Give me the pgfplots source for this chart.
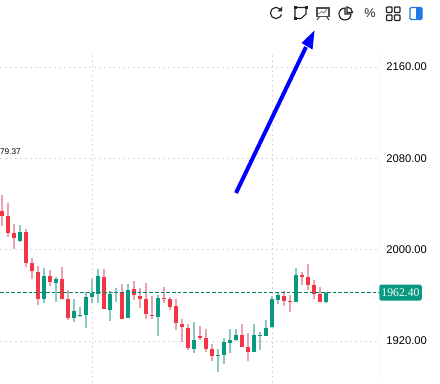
\documentclass[border=0pt]{standalone}
\usepackage{fontspec}
\setmainfont{Liberation Sans}
\newfontfamily\serifbox{Liberation Serif}
\usepackage{pgfplots}
\usepackage{pgfplotstable}
\pgfplotsset{compat=1.18}
\definecolor{upb}{HTML}{089981}
\definecolor{dnb}{HTML}{F23645}
\definecolor{upw}{HTML}{8CC8BE}
\definecolor{dnw}{HTML}{E9A3B1}
\definecolor{gridc}{HTML}{D9D9D9}
\definecolor{iconc}{HTML}{222222}
\definecolor{panel}{HTML}{1E78E6}
\pgfplotstableread{
x high low top bot
2 2047.9 2020.7 2033.8 2029.8
8 2040.6 2011.4 2029.5 2014.9
14 2022.2 2000.6 2014.6 2010.5
26 2017.8 1984.8 2015.5 1988.6
32 1992.4 1974.6 1988.3 1981.6
38 1985.7 1951.8 1980.4 1957.0
50 1982.2 1968.1 1976.9 1971.9
62 1984.5 1957.0 1974.3 1957.0
68 1964.3 1938.4 1956.8 1940.1
104 1983.0 1947.7 1976.0 1948.0
122 1970.0 1939.3 1962.7 1939.6
134 1972.6 1956.0 1965.6 1960.3
140 1966.5 1949.2 1959.5 1956.8
146 1970.9 1939.3 1956.8 1943.7
152 1959.5 1939.3 1942.8 1941.9
164 1967.3 1953.3 1957.7 1956.8
170 1958.6 1947.2 1956.8 1949.8
176 1956.8 1929.7 1950.7 1935.8
182 1939.3 1919.2 1934.9 1932.3
188 1934.9 1912.2 1931.4 1913.9
200 1933.2 1920.9 1924.4 1922.7
206 1930.6 1910.4 1922.7 1913.0
212 1917.4 1902.5 1913.0 1906.9
242 1934.9 1914.8 1925.3 1914.8
248 1927.1 1902.5 1914.8 1910.4
284 1963.8 1950.6 1959.4 1955.0
290 1960.3 1945.4 1955.0 1954.2
302 1980.4 1969.0 1977.8 1976.3
308 1987.4 1964.7 1976.0 1969.0
314 1973.4 1956.8 1969.0 1961.2
320 1967.3 1954.2 1961.2 1954.2
}\reddata
\pgfplotstableread{
x high low top bot
20 2021.6 2006.7 2015.5 2007.9
44 1983.6 1953.5 1976.9 1957.0
56 1976.3 1954.4 1974.3 1971.1
74 1956.8 1936.6 1946.2 1940.1
80 1949.7 1941.0 1942.7 1942.2
86 1962.6 1931.6 1958.5 1943.0
92 1974.3 1953.3 1962.0 1958.8
98 1983.0 1953.3 1976.9 1961.4
110 1963.5 1937.8 1961.1 1947.4
116 1966.4 1954.1 1962.6 1961.7
128 1970.0 1939.9 1964.7 1940.5
158 1960.3 1924.4 1957.7 1941.1
194 1936.7 1909.5 1920.9 1913.0
218 1913.0 1892.9 1907.8 1907.2
224 1922.7 1899.9 1919.2 1907.8
230 1930.6 1909.5 1920.9 1918.3
236 1930.6 1920.0 1925.3 1920.9
254 1934.9 1910.3 1925.2 1910.3
260 1927.9 1912.1 1924.9 1924.4
266 1938.4 1924.4 1931.4 1924.4
272 1959.4 1931.4 1956.8 1932.2
278 1962.9 1952.4 1960.3 1955.9
296 1983.9 1954.2 1977.8 1954.2
326 1962.9 1953.6 1962.0 1954.2
}\greendata
\begin{document}
\begin{tikzpicture}
\useasboundingbox (0,0) rectangle (330pt,287.25pt);
\begin{axis}[
  at={(0,0)}, anchor=south west,
  scale only axis, width=284.25pt, height=247.5pt,
  xmin=0, xmax=379, ymin=1883.2, ymax=2172.3,
  xtick={92,272}, xticklabels={},
  ytick={1920,2000,2080,2160},
  yticklabel pos=right,
  separate axis lines,
  axis line style={draw=none},
  tick style={draw=none},
  xmajorgrids, ymajorgrids,
  grid style={gridc, line width=0.6pt, dash pattern=on 1.5pt off 2.2pt},
  /pgf/number format/assume math mode=true,
  /pgf/number format/fixed, /pgf/number format/fixed zerofill,
  /pgf/number format/precision=2, /pgf/number format/1000 sep={},
  yticklabel style={font=\fontsize{8.4}{9}\selectfont, text=black, anchor=west, xshift=2pt},
]
\addplot[draw=none, mark=none, forget plot, error bars/.cd, y dir=plus, y explicit, error mark=none,
  error bar style={dnw, line width=1.5pt}]
  table[x=x, y=low, y error plus expr=\thisrow{high}-\thisrow{low}] {\reddata};
\addplot[draw=none, mark=none, forget plot, error bars/.cd, y dir=plus, y explicit, error mark=none,
  error bar style={upw, line width=1.5pt}]
  table[x=x, y=low, y error plus expr=\thisrow{high}-\thisrow{low}] {\greendata};
\addplot[draw=none, mark=none, forget plot, error bars/.cd, y dir=plus, y explicit, error mark=none,
  error bar style={dnb, line width=3pt}]
  table[x=x, y=bot, y error plus expr=\thisrow{top}-\thisrow{bot}] {\reddata};
\addplot[draw=none, mark=none, forget plot, error bars/.cd, y dir=plus, y explicit, error mark=none,
  error bar style={upb, line width=3pt}]
  table[x=x, y=bot, y error plus expr=\thisrow{top}-\thisrow{bot}] {\greendata};
\addplot[upb!85!black, line width=0.75pt, dash pattern=on 2.8pt off 1.5pt] coordinates {(0,1962.4)(379,1962.4)};
\addplot[gridc, line width=0.7pt] coordinates {(379,1883.2)(379,2172.3)};
\end{axis}
\begin{scope}[x=0.75pt, y=-0.75pt, yshift=287.25pt]
  % price box
  \node[fill=upb, rounded corners=1.2pt, text=white, inner sep=0pt, minimum width=31.9pt, minimum height=12pt,
        anchor=west, font=\serifbox\fontsize{8.8}{10}\selectfont] at (379,292.5) {1962.40};
  \node[anchor=east, inner sep=0pt, font=\fontsize{6.2}{7}\selectfont, text=black] at (21,152) {79.37};
  % arrow
  \draw[blue, line width=3pt] (236,193) -- (306,47);
  \fill[blue] (314.5,30.5) -- (301.5,43) -- (312.5,49.5) -- cycle;
  % refresh
  \draw[iconc, line width=0.85pt] (280,9) arc (-45:-345:5.6);
  \fill[iconc] (282.2,6.5) -- (282.2,11.5) -- (277.5,11.5) -- cycle;
  % crop square
  \draw[iconc, line width=0.85pt] (295,7.5) -- (306,7.5) -- (306,14) -- (301,18.5) -- (295,18.5) -- cycle;
  \fill[iconc] (293.5,6) rectangle (296.5,9);
  \fill[iconc] (304.5,6) rectangle (307.5,9);
  \fill[iconc] (293.5,17) rectangle (296.5,20);
  % presentation
  \draw[iconc!80, line width=0.85pt] (317,8) rectangle (329,16.5);
  \draw[iconc!80, line width=0.85pt] (316,7.5) -- (330,7.5);
  \draw[iconc!60, line width=0.6pt] (318.5,14) -- (321.5,11.5) -- (323.5,13) -- (327,9.5);
  \draw[iconc!80, line width=0.85pt] (319.5,16.5) -- (317,20);
  \draw[iconc!80, line width=0.85pt] (326.5,16.5) -- (329,20);
  % pie
  \draw[iconc, line width=0.85pt] (345,8) arc (-90:-360:6) -- (345,14) -- cycle;
  \draw[iconc, line width=0.85pt] (347,7) arc (-90:0:5.5) -- (347,12.5) -- cycle;
  % percent
  \node[font=\fontsize{9.5}{10}\selectfont, text=iconc, inner sep=0pt] at (370,13) {\%};
  % grid icon
  \foreach \a in {386.5,394.5}{\foreach \b in {7,15}{
    \draw[iconc, line width=0.9pt, rounded corners=0.5pt] (\a,\b) rectangle ++(5.5,5.5);}}
  % panel icon
  \draw[panel, line width=0.9pt, rounded corners=1pt] (410,7.5) rectangle (422,19.5);
  \fill[panel, rounded corners=0.8pt] (416,7.5) rectangle (422,19.5);
\end{scope}
\end{tikzpicture}
\end{document}
